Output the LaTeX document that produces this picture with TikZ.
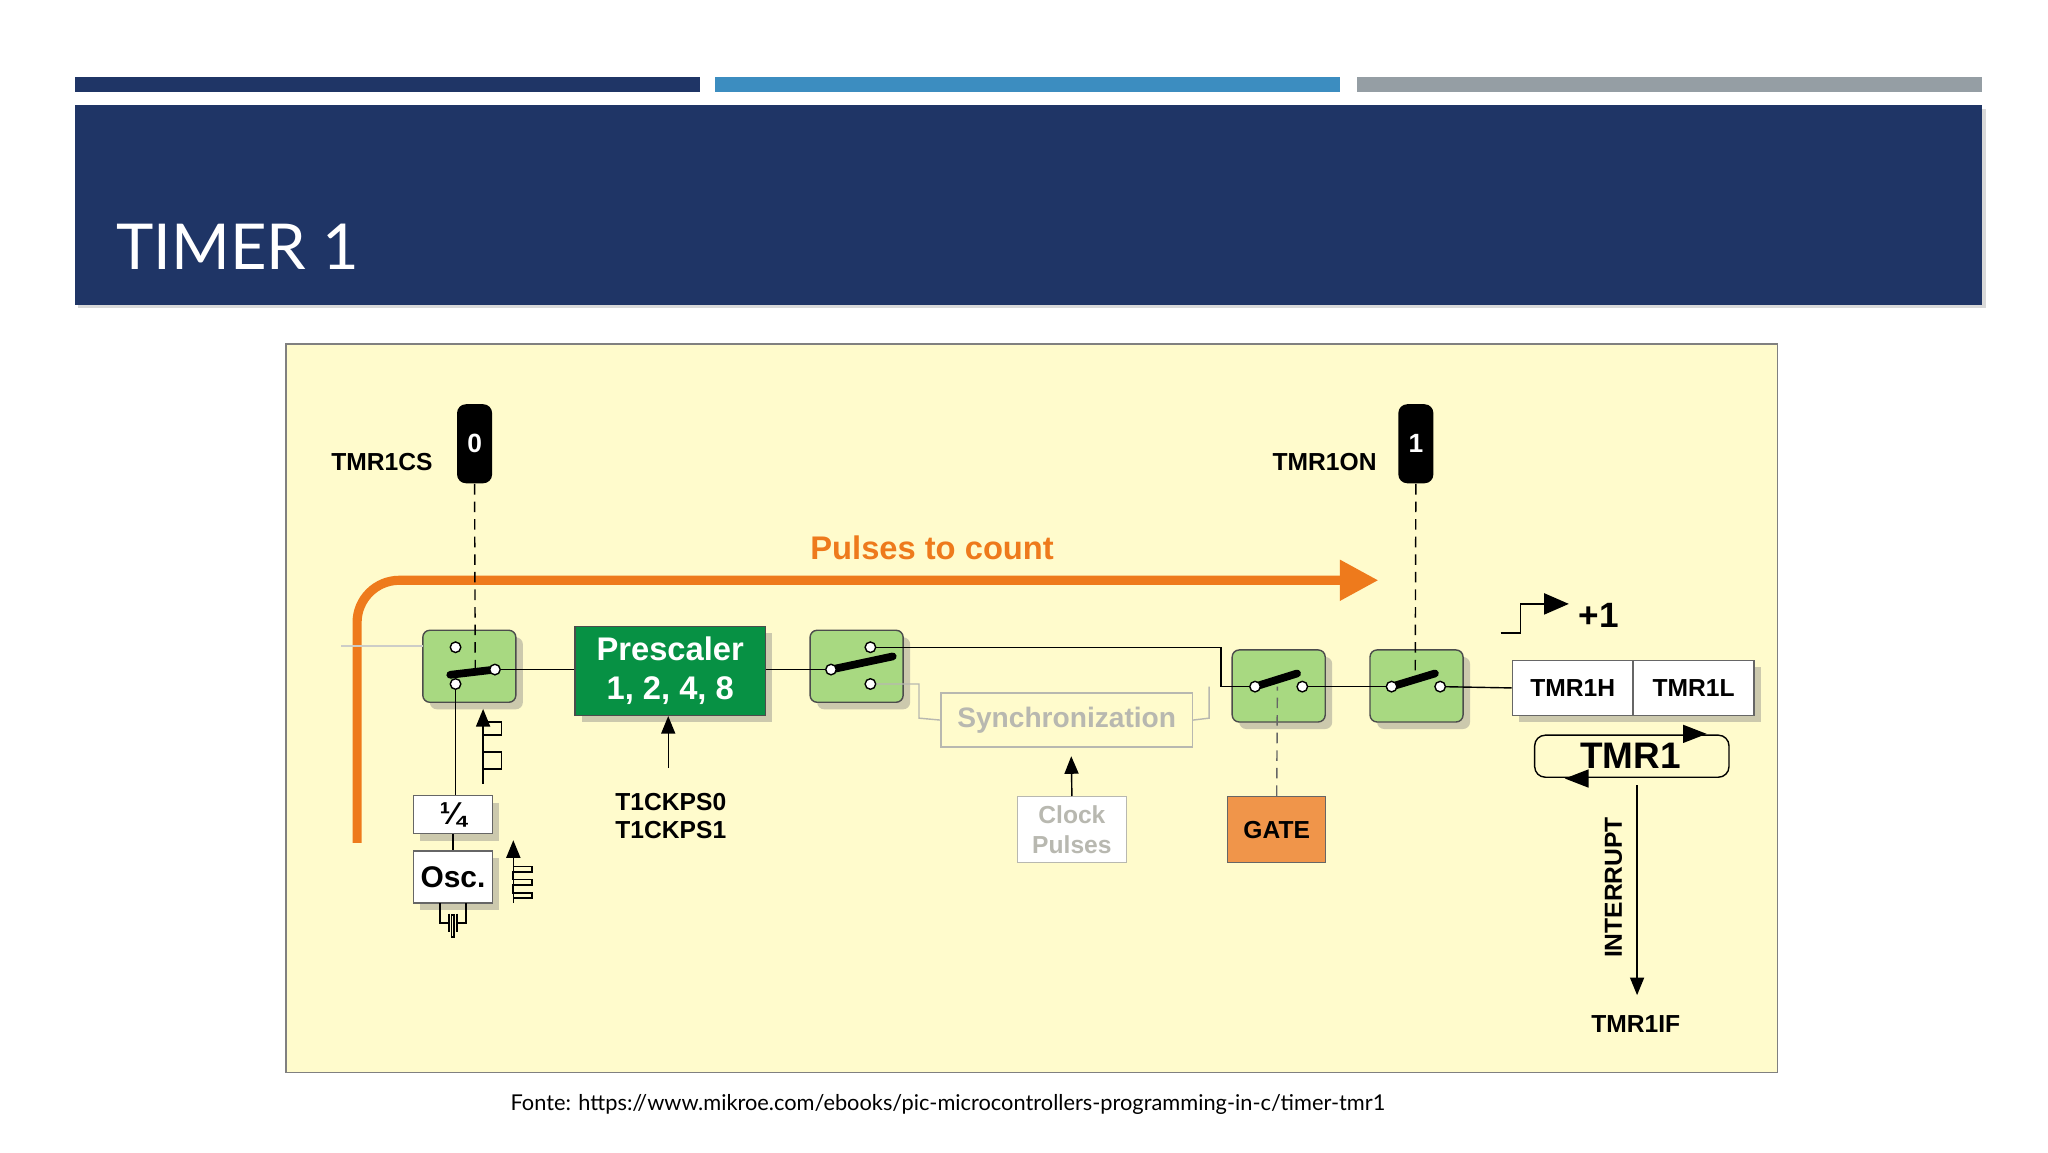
\documentclass[tikz,border=0pt]{standalone}
\usepackage{fontspec}
\setmainfont{Liberation Sans}
\newfontfamily\slidefont{Lato}
\usetikzlibrary{arrows.meta,shadows}
\definecolor{navy}{HTML}{1F3566}
\definecolor{barblue}{HTML}{3C8DC0}
\definecolor{bargray}{HTML}{959EA4}
\definecolor{paper}{HTML}{FFFBCC}
\definecolor{swgreen}{HTML}{A8D981}
\definecolor{pregreen}{HTML}{079144}
\definecolor{pulse}{HTML}{EE7A1C}
\definecolor{gatecol}{HTML}{F0954A}
\definecolor{faint}{HTML}{B8B8B0}
\tikzset{
  sw/.style={draw=black!70,fill=swgreen,rounded corners=2pt,minimum width=0.93cm,minimum height=0.72cm,drop shadow={shadow xshift=2pt,shadow yshift=-2pt,opacity=0.4}},
  box/.style={draw=black!60,fill=white,inner sep=0pt,font=\bfseries\fontsize{7}{8}\selectfont,drop shadow={shadow xshift=2pt,shadow yshift=-2pt,opacity=0.4}},
  bit/.style={fill=black,rounded corners=2.5pt,text=white,font=\bfseries\fontsize{7.5}{8}\selectfont,minimum width=0.35cm,minimum height=0.79cm,inner sep=0pt},
  lbl/.style={font=\bfseries\fontsize{7}{8}\selectfont},
  dot/.style={circle,draw=black,fill=white,inner sep=0pt,minimum size=3pt},
  lever/.style={line width=2.2pt,line cap=round},
  pin/.style={-{Triangle[length=5pt,width=4pt]}}
}
\begin{document}
\begin{tikzpicture}[x=0.01313cm,y=-0.01313cm]
\useasboundingbox (0,0) rectangle (1560,877.5);
% slide header
\fill[navy] (57,59) rectangle (533,70);
\fill[barblue] (545,59) rectangle (1021,70);
\fill[bargray] (1034,59) rectangle (1510,70);
\fill[navy,drop shadow={shadow xshift=1pt,shadow yshift=-1pt,opacity=0.3}] (57,80) rectangle (1510,232);
\node[anchor=base west,inner sep=0pt,text=white,font=\slidefont\fontsize{18}{22}\selectfont] (title) at (88,205) {TIMER 1};
% diagram frame
\draw[gray,fill=paper] (218,262) rectangle (1354,817);
\node[font=\slidefont\fontsize{6.2}{7}\selectfont] (src) at (722,841) {Fonte: https://www.mikroe.com/ebooks/pic-microcontrollers-programming-in-c/timer-tmr1};

% control bits
\node[bit] (cs) at (361.5,338) {0};
\node[lbl,anchor=east] (cslbl) at (339,352) {TMR1CS};
\node[bit] (on) at (1078.5,338) {1};
\node[lbl,anchor=east] (onlbl) at (1058,352) {TMR1ON};

% blocks
\node[sw] (sw1) at (357.5,507.5) {};
\node[sw] (sw2) at (652.5,507.5) {};
\node[sw] (sw3) at (974,522.5) {};
\node[sw] (sw4) at (1079,522.5) {};
\node[draw=black!70,fill=pregreen,text=white,font=\bfseries\fontsize{9.3}{11}\selectfont,align=center,minimum width=1.9cm,minimum height=0.89cm,inner sep=0pt,drop shadow={shadow xshift=2pt,shadow yshift=-2pt,opacity=0.4}] (pre) at (510.5,511) {Prescaler\\1, 2, 4, 8};
\node[draw=faint,fill=paper,text=faint,font=\bfseries\fontsize{8}{9}\selectfont,minimum width=2.51cm,minimum height=0.54cm,inner sep=0pt] (sync) at (812.5,548.5) {Synchronization};
\node[draw=faint,fill=white,text=faint,font=\bfseries\fontsize{7}{8.5}\selectfont,align=center,minimum width=1.09cm,minimum height=0.66cm,inner sep=0pt] (clk) at (816.5,632) {Clock\\Pulses};
\node[draw=black!60,fill=gatecol,lbl,minimum width=0.98cm,minimum height=0.66cm,inner sep=0pt] (gate) at (972.5,632) {GATE};
\node[box,minimum width=1.21cm,minimum height=0.55cm] (hi) at (1198,524) {TMR1H};
\node[box,minimum width=1.21cm,minimum height=0.55cm] (lo) at (1290,524) {TMR1L};
\node[box,minimum width=0.79cm,minimum height=0.38cm,font=\bfseries\fontsize{9}{9}\selectfont] (div) at (345,620.5) {¼};
\node[box,minimum width=0.79cm,minimum height=0.52cm,font=\bfseries\fontsize{8.5}{9}\selectfont] (osc) at (345,668) {Osc.};

% switch contacts
\coordinate (a1) at (347,493); \coordinate (b1) at (347,521); \coordinate (c1) at (377,510);
\coordinate (a2) at (663,493); \coordinate (b2) at (663,521); \coordinate (c2) at (633,510);
\coordinate (c3) at (956,523); \coordinate (d3) at (992,523);
\coordinate (c4) at (1060,523); \coordinate (d4) at (1097,523);

% orange pulse path
\draw[pulse,line width=2.6pt,rounded corners=12pt,-{Triangle[length=11pt,width=11pt]}] (272,642) -- (272,442) -- (1050,442);
\node[text=pulse,font=\bfseries\fontsize{9.3}{11}\selectfont] (pulses) at (710,417) {Pulses to count};

% wiring
\draw[faint!70] (260,492) -- (322,492);
\draw (c1) -- (pre.west |- c1);
\draw (pre.east |- c2) -- (c2);
\draw (a2) -- (930,493) -- (930,523) -- (c3);
\draw[faint] (b2) -- (700,521) -- (700,547) -- (sync.west);
\draw[faint] (sync.east) -- (921,547) -- (921,523);
\draw (d3) -- (c4);
\draw (d4) -- (hi.west);
\draw (b1) -- (div.north -| b1);
\draw (div) -- (osc);
\draw[densely dashed] (cs.south) -- (362,510);
\draw[densely dashed] (on.south) -- (1078,518);
\draw[densely dashed,black!60] (gate.north) -- (973,523);
\draw[pin] (509,585) -- (pre.south -| 509,0);
\draw[pin] (clk.north) -- (816,576);
\node[lbl,align=left,anchor=north] (ckps) at (511,595) {T1CKPS0\\T1CKPS1};

% switch levers
\draw[lever] (343,514) -- (c1);
\draw[lever] (c2) -- (680,500);
\draw[lever] (c3) -- (988,513);
\draw[lever] (c4) -- (1093,513);
\foreach \p in {a1,b1,c1,a2,b2,c2,c3,d3,c4,d4} \node[dot] at (\p) {};

% clock waveforms near oscillator
\draw[pin] (368,597) -- (368,540);
\draw[line width=0.5pt] (368,595) -- (368,586) -- (382,586) -- (382,573) -- (368,573) -- (368,560) -- (382,560) -- (382,550) -- (368,550);
\draw[pin] (391,688) -- (391,640);
\draw[line width=0.5pt] (391,660) -- (405,660) -- (405,664) -- (391,664) -- (391,670) -- (405,670) -- (405,674) -- (391,674) -- (391,680) -- (405,680) -- (405,684) -- (391,684);
% crystal
\draw[line width=0.5pt] (335,688) -- (335,703) -- (342,703) (355,688) -- (355,703) -- (348,703);
\draw[line width=0.5pt] (342,696) -- (342,710) (348,696) -- (348,710) (344,697) rectangle (346,714);

% counter side
\draw (1143,482) -- (1158,482) -- (1158,460) -- (1183,460);
\draw[-{Triangle[length=7pt,width=6pt]}] (1180,460) -- (1195,460);
\node[font=\bfseries\fontsize{10}{12}\selectfont] (inc) at (1218,469) {+1};
\draw[rounded corners=3pt] (1169,560) rectangle (1317,592);
\node[font=\bfseries\fontsize{10.5}{12}\selectfont] (tmr) at (1242,576) {TMR1};
\fill (1282,552) -- (1300,559) -- (1282,566) -- cycle;
\fill (1210,586) -- (1192,593) -- (1210,600) -- cycle;
\draw[pin] (1247,598) -- (1247,758);
\node[lbl,rotate=90] (irq) at (1229,676) {INTERRUPT};
\node[lbl] (flag) at (1246,780) {TMR1IF};
\end{tikzpicture}
\end{document}
